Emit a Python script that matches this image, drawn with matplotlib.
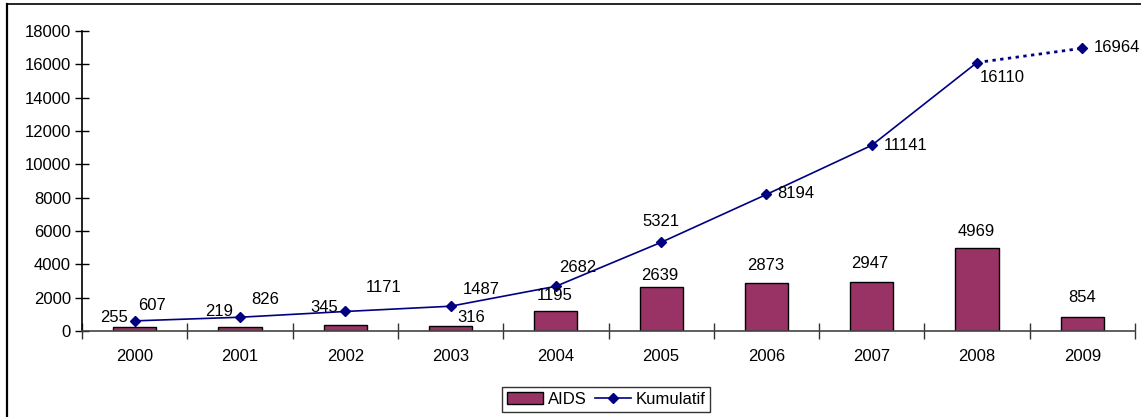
import matplotlib
matplotlib.use("Agg")
import matplotlib.pyplot as plt
from matplotlib.lines import Line2D
from matplotlib.patches import Patch
import numpy as np

years = ["2000", "2001", "2002", "2003", "2004", "2005", "2006", "2007", "2008", "2009"]
aids = [255, 219, 345, 316, 1195, 2639, 2873, 2947, 4969, 854]
kumulatif = [607, 826, 1171, 1487, 2682, 5321, 8194, 11141, 16110, 16964]
yticks = [0, 2000, 4000, 6000, 8000, 10000, 12000, 14000, 16000, 18000]

# label positions (data coords) as moved in the original chart
aids_label_pos = [(-0.20, 840), (0.80, 1200), (1.80, 1380), (3.20, 840), (3.99, 2160),
                  (4.99, 3300), (5.99, 3960), (6.98, 4080), (7.99, 6000), (9.0, 1980)]
kum_label_pos = [(0.165, 1560), (1.24, 1920), (2.36, 2580), (3.29, 2460), (4.21, 3780),
                 (5.0, 6540), (6.28, 8280), (7.32, 11100), (8.24, 15240), (9.33, 16980)]

plt.rcParams['font.family'] = ['Liberation Sans', 'DejaVu Sans']
FS = 12
bar_color = '#993366'
line_color = '#000080'

fig = plt.figure(figsize=(11.41, 4.17), dpi=100)
ax = fig.add_axes([82/1141, (417-331)/417, (1135-82)/1141, 300/417])

x = np.arange(len(years))
ax.bar(x, aids, width=0.41, color=bar_color, edgecolor='black', linewidth=1.0, zorder=2)
ax.plot(x[:-1], kumulatif[:-1], color=line_color, lw=1.2, marker='D', ms=5,
        markerfacecolor=line_color, markeredgecolor=line_color, zorder=3)
ax.plot(x[-2:], kumulatif[-2:], color=line_color, lw=2, ls=(0, (1.2, 1.6)), zorder=3)
ax.plot(x[-1:], kumulatif[-1:], color=line_color, ls='none', marker='D', ms=5, zorder=4)

for v, (px, py) in zip(aids, aids_label_pos):
    ax.text(px, py, str(v), ha='center', va='center', fontsize=FS, color='black')
for v, (px, py) in zip(kumulatif, kum_label_pos):
    ax.text(px, py, str(v), ha='center', va='center', fontsize=FS, color='black')

ax.set_xlim(-0.5, len(years) - 0.5)
ax.set_ylim(0, 18000)
ax.set_yticks(yticks)
ax.set_yticklabels([str(t) for t in yticks], fontsize=FS)
ax.set_xticks(x)
ax.set_xticklabels(years, fontsize=FS)
ax.set_xticks(np.arange(-0.5, len(years)), minor=True)
ax.tick_params(axis='x', which='major', length=0, pad=13)
ax.tick_params(axis='x', which='minor', direction='inout', length=11, width=1, color='#333333')
ax.tick_params(axis='y', direction='inout', length=10, width=1, pad=3)
for s in ['top', 'right']:
    ax.spines[s].set_visible(False)
ax.spines['left'].set_linewidth(1.2)
ax.spines['bottom'].set_linewidth(1.2)
ax.spines['bottom'].set_color('#444444')

handles = [Patch(facecolor=bar_color, edgecolor='black', linewidth=1.0),
           Line2D([0], [0], color=line_color, lw=1.2, marker='D', ms=5)]
leg = fig.legend(handles, ['AIDS', 'Kumulatif'], loc='center', bbox_to_anchor=(606/1141, 1 - 399/417),
                 ncol=2, fontsize=FS, frameon=True, fancybox=False, edgecolor='black',
                 handlelength=2.2, handletextpad=0.25, columnspacing=0.5, borderpad=0.3,
                 borderaxespad=0, handleheight=0.7)
leg.get_frame().set_linewidth(1.0)

# outer chart border (top and left visible)
fig.add_artist(Line2D([7/1141, 7/1141], [0, 1 - 4/417], transform=fig.transFigure, color='black', lw=1.6))
fig.add_artist(Line2D([7/1141, 1], [1 - 4/417, 1 - 4/417], transform=fig.transFigure, color='black', lw=1.2))

fig.savefig('out.png', dpi=100)
